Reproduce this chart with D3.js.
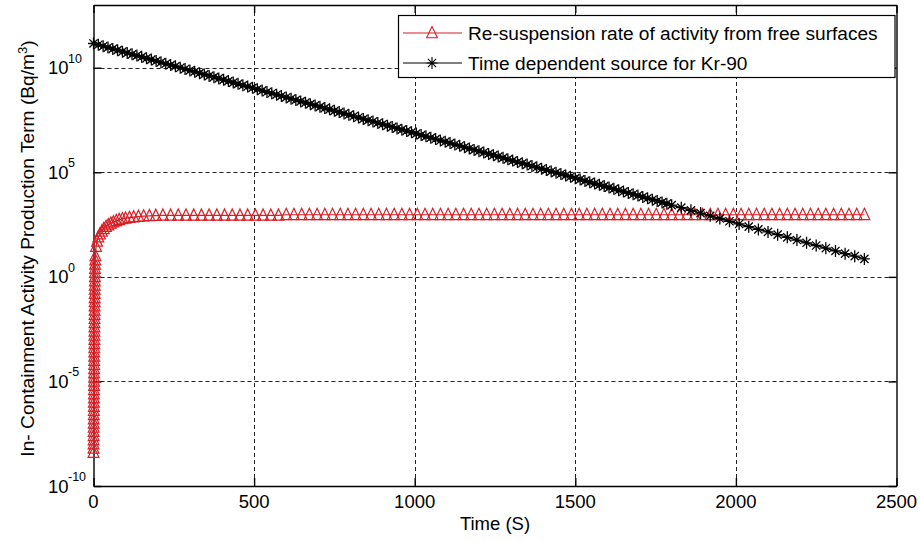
<!DOCTYPE html>
<html><head><meta charset="utf-8">
<script src="https://cdn.jsdelivr.net/npm/d3@7"></script>
<style>
body{margin:0;background:#fff}
svg{display:block}
text{font-family:"Liberation Sans",Arial,Helvetica,sans-serif;fill:#000}
</style>
</head><body>
<svg id="chart" width="920" height="541"></svg>
<script>
// ---------- data ----------
const xTickValues = [0, 500, 1000, 1500, 2000, 2500];
const yTickExponents = [-10, -5, 0, 5, 10];
const xLabel = "Time (S)";
const yLabelMain = "In- Containment Activity Production Term (Bq/m";
const seriesNames = ["Re-suspension rate of activity from free surfaces", "Time dependent source for Kr-90"];

// Time dependent source for Kr-90 (time in s, value as log10 of Bq/m3)
const blackTime = [0,15,30,45,60,75,90,105,120,135,150,165,180,195,210,225,240,255,270,285,300,315,330,345,360,375,390,405,420,435,450,465,480,495,510,525,540,555,570,585,600,615,630,645,660,675,690,705,720,735,750,765,780,795,810,825,840,855,870,885,900,915,930,945,960,975,990,1005,1020,1035,1050,1065,1080,1095,1110,1125,1140,1155,1170,1185,1200,1215,1230,1245,1260,1275,1290,1305,1320,1335,1350,1365,1380,1395,1410,1425,1440,1455,1470,1485,1500,1515,1530,1545,1560,1575,1590,1605,1620,1635,1650,1665,1680,1695,1710,1725,1740,1755,1770,1785,1800,1830,1860,1890,1920,1950,1980,2010,2040,2070,2100,2130,2160,2190,2220,2250,2280,2310,2340,2370,2400];
const blackLog10 = [11.16,11.10,11.03,10.97,10.90,10.84,10.77,10.71,10.64,10.58,10.52,10.45,10.39,10.32,10.26,10.19,10.13,10.07,10.00,9.94,9.87,9.81,9.74,9.68,9.61,9.55,9.49,9.42,9.36,9.29,9.23,9.16,9.10,9.04,8.97,8.91,8.84,8.78,8.71,8.65,8.58,8.52,8.46,8.39,8.33,8.26,8.20,8.13,8.07,8.01,7.94,7.88,7.81,7.75,7.68,7.62,7.55,7.49,7.43,7.36,7.30,7.23,7.17,7.10,7.04,6.98,6.91,6.85,6.78,6.72,6.65,6.59,6.52,6.46,6.40,6.33,6.27,6.20,6.14,6.07,6.01,5.95,5.88,5.82,5.75,5.69,5.62,5.56,5.49,5.43,5.37,5.30,5.24,5.17,5.11,5.04,4.98,4.92,4.85,4.79,4.72,4.66,4.59,4.53,4.46,4.40,4.34,4.27,4.21,4.14,4.08,4.01,3.95,3.89,3.82,3.76,3.69,3.63,3.56,3.50,3.43,3.31,3.18,3.05,2.92,2.79,2.66,2.53,2.40,2.27,2.15,2.02,1.89,1.76,1.63,1.50,1.37,1.24,1.11,0.99,0.86];

// Re-suspension rate of activity from free surfaces (time in s, value as log10 of Bq/m3)
const redTime = [0,0.1,0.2,0.3,0.4,0.5,0.6,0.7,0.8,0.9,1.0,1.1,1.2,1.3,1.4,1.5,1.6,1.7,1.8,1.9,2.0,2.1,2.2,2.3,2.4,2.5,2.6,2.7,2.8,2.9,3.0,3.1,3.2,3.3,3.4,3.5,3.6,3.7,3.8,3.9,4.0,4.2,4.4,4.6,4.8,5.0,5.5,6.0,
  8,11,15,20,26,32,39,46,54,62,71,80,90,100,112,125,140,156,174,194,216,240,
  264,288,312,336,360,384,408,432,456,480,504,528,552,576,600,624,648,672,696,720,744,768,792,816,840,864,888,912,936,960,984,1008,1032,1056,1080,1104,1128,1152,1176,1200,1224,1248,1272,1296,1320,1344,1368,1392,1416,1440,1464,1488,1512,1536,1560,1584,1608,1632,1656,1680,1704,1728,1752,1776,1800,1824,1848,1872,1896,1920,1944,1968,1992,2016,2040,2064,2088,2112,2136,2160,2184,2208,2232,2256,2280,2304,2328,2352,2376,2400];
const redLog10 = [-8.4,-8.2,-8.0,-7.8,-7.6,-7.4,-7.2,-7.0,-6.8,-6.6,-6.4,-6.2,-6.0,-5.8,-5.6,-5.4,-5.2,-5.0,-4.8,-4.6,-4.4,-4.2,-4.0,-3.8,-3.6,-3.4,-3.2,-3.0,-2.8,-2.6,-2.4,-2.2,-2.0,-1.8,-1.6,-1.4,-1.2,-1.0,-0.8,-0.6,-0.4,-0.2,0.0,0.2,0.4,0.6,0.8,1.0,
  1.45,1.70,1.90,2.05,2.18,2.30,2.40,2.48,2.56,2.62,2.68,2.73,2.77,2.80,2.83,2.86,2.88,2.90,2.92,2.93,2.94,2.94,
  2.94,2.94,2.94,2.94,2.94,2.94,2.94,2.94,2.94,2.94,2.94,2.94,2.94,2.94,
  2.97,2.97,2.97,2.97,2.97,2.97,2.97,2.97,2.97,2.97,2.97,2.97,2.97,2.97,2.97,2.97,2.97,2.97,2.97,2.97,
  2.97,2.97,2.97,2.97,2.97,2.97,2.97,2.97,2.97,2.97,2.97,2.97,2.97,2.97,2.97,2.97,2.97,2.97,2.97,2.97,
  2.97,2.97,2.97,2.97,2.97,2.97,2.97,2.97,2.97,2.97,2.97,2.97,2.97,2.97,2.97,2.97,2.97,2.97,2.97,2.97,
  2.97,2.97,2.97,2.97,2.97,2.97,2.97,2.97,2.97,2.97,2.97,2.97,2.97,2.97,2.97,2.97];

// ---------- layout ----------
const svg = d3.select("#chart");
const L = 93.5, R = 896.5, T = 5, B = 486;
const RED = "#d61f26";
const x = d3.scaleLinear().domain([0, 2500]).range([L, R]);
const y = d3.scaleLog().domain([1e-10, 1e13]).range([B, T]);

const black = blackTime.map((t, i) => ({t, v: Math.pow(10, blackLog10[i])}));
const red = redTime.map((t, i) => ({t, v: Math.pow(10, redLog10[i])}));

// grid
const grid = svg.append("g").attr("stroke", "#222").attr("stroke-width", 1).attr("stroke-dasharray", "4,3").attr("fill", "none");
xTickValues.filter(v => v > 0 && v < 2500).forEach(v => {
  grid.append("line").attr("x1", Math.round(x(v)) + 0.5).attr("x2", Math.round(x(v)) + 0.5).attr("y1", T).attr("y2", B);
});
yTickExponents.filter(e => e > -10).forEach(e => {
  const yy = Math.round(y(Math.pow(10, e))) + 0.5;
  grid.append("line").attr("x1", L).attr("x2", R).attr("y1", yy).attr("y2", yy);
});

// axes with inward ticks
const xAxisB = d3.axisBottom(x).tickValues(xTickValues).tickSizeInner(-8).tickSizeOuter(0).tickFormat("");
const xAxisT = d3.axisTop(x).tickValues(xTickValues).tickSizeInner(-8).tickSizeOuter(0).tickFormat("");
const yTicks = yTickExponents.map(e => Math.pow(10, e));
const yAxisL = d3.axisLeft(y).tickValues(yTicks).tickSizeInner(-8).tickSizeOuter(0).tickFormat("");
const yAxisR = d3.axisRight(y).tickValues(yTicks).tickSizeInner(-8).tickSizeOuter(0).tickFormat("");
[[xAxisB, `translate(0,${B})`], [xAxisT, `translate(0,${T})`], [yAxisL, `translate(${L},0)`], [yAxisR, `translate(${R},0)`]].forEach(([ax, tr]) => {
  const g = svg.append("g").attr("transform", tr).call(ax);
  g.selectAll("path,line").attr("stroke", "#000").attr("stroke-width", 1.4);
});

// x tick labels
svg.append("g").selectAll("text").data(xTickValues).join("text")
  .attr("x", d => x(d)).attr("y", 508).attr("text-anchor", "middle").attr("font-size", 18.5).text(d => d);

// y tick labels: 10 with superscript exponent
yTickExponents.forEach(e => {
  const yy = y(Math.pow(10, e));
  svg.append("text").attr("x", 48).attr("y", yy + 6.5).attr("font-size", 18.5).text("10");
  svg.append("text").attr("x", 68).attr("y", yy - 5).attr("font-size", 12.5).text(String(e));
});

// axis labels
svg.append("text").attr("x", (L + R) / 2).attr("y", 530).attr("text-anchor", "middle").attr("font-size", 18.5).text(xLabel);
const yl = svg.append("text").attr("transform", `translate(33.5,${(T + B) / 2 + 3}) rotate(-90)`).attr("text-anchor", "middle").attr("font-size", 19.2);
yl.append("tspan").text(yLabelMain);
yl.append("tspan").attr("dy", -7).attr("font-size", 13).text("3");
yl.append("tspan").attr("dy", 7).text(")");

// series
const line = d3.line().x(d => x(d.t)).y(d => y(d.v));
const triPath = "M0,-6.4L5.4,4.8L-5.4,4.8Z";
const starPath = "M0,-6V6M-5.5,0H5.5M-4.1,-4.1L4.1,4.1M-4.1,4.1L4.1,-4.1";

svg.append("path").datum(red).attr("d", line).attr("fill", "none").attr("stroke", RED).attr("stroke-width", 1.2);
svg.append("g").selectAll("path").data(red).join("path")
  .attr("transform", d => `translate(${x(d.t)},${y(d.v)})`).attr("d", triPath)
  .attr("fill", "none").attr("stroke", RED).attr("stroke-width", 1.2);

svg.append("path").datum(black).attr("d", line).attr("fill", "none").attr("stroke", "#000").attr("stroke-width", 1.4);
svg.append("g").selectAll("path").data(black).join("path")
  .attr("transform", d => `translate(${x(d.t)},${y(d.v)})`).attr("d", starPath)
  .attr("fill", "none").attr("stroke", "#000").attr("stroke-width", 1.3);

// legend
const lg = svg.append("g");
lg.append("rect").attr("x", 398.5).attr("y", 15.5).attr("width", 496.5).attr("height", 62).attr("fill", "#fff").attr("stroke", "#000").attr("stroke-width", 1.2);
const rows = [{y: 33, color: RED, mark: triPath}, {y: 63, color: "#000", mark: starPath}];
rows.forEach((r, i) => {
  lg.append("line").attr("x1", 403).attr("x2", 462).attr("y1", r.y).attr("y2", r.y).attr("stroke", r.color).attr("stroke-width", 1.2);
  lg.append("path").attr("transform", `translate(432,${r.y})`).attr("d", r.mark).attr("fill", "none").attr("stroke", r.color).attr("stroke-width", 1.1);
  lg.append("text").attr("x", 468).attr("y", r.y + 6.5).attr("font-size", 19.1).text(seriesNames[i]);
});
</script>
</body></html>
